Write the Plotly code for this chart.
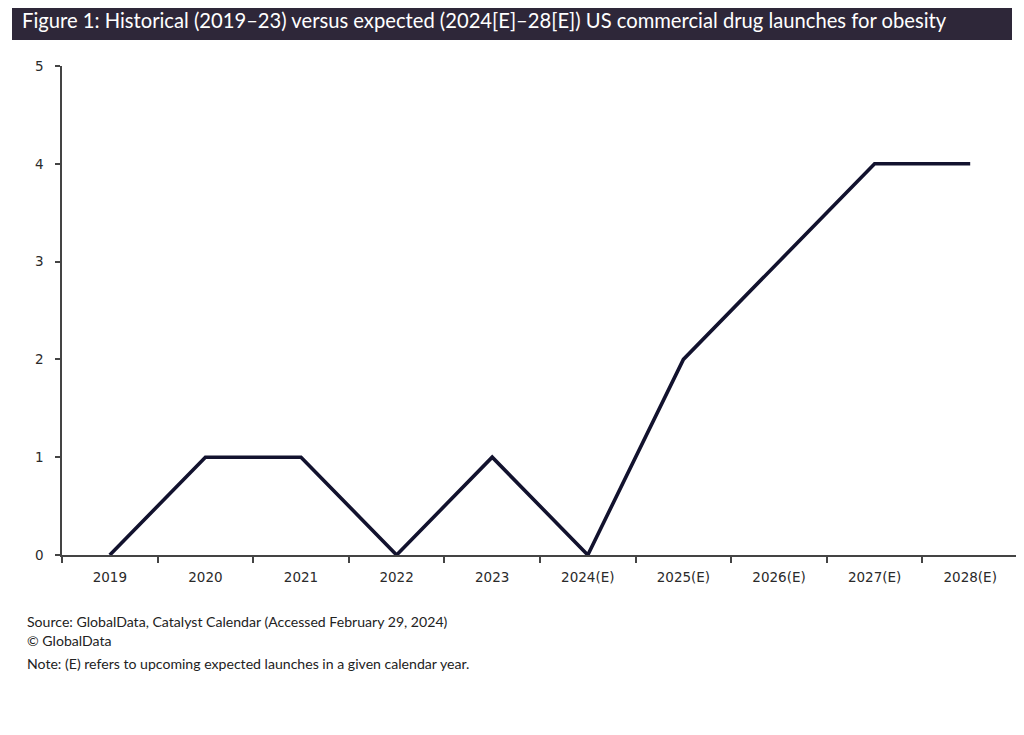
import plotly.graph_objects as go

years = ["2019", "2020", "2021", "2022", "2023", "2024(E)", "2025(E)", "2026(E)", "2027(E)", "2028(E)"]
launches = [0, 1, 1, 0, 1, 0, 2, 3, 4, 4]
y_ticks = [0, 1, 2, 3, 4, 5]

W, H = 1024, 735
OFF = 8  # page body margin compensation
L, R, T, B = 62 - OFF, 1018 - OFF, 66 - OFF, 555 - OFF
pw, ph = R - L, B - T

def px(x):
    return (x - OFF - L) / pw

def py(y):
    return (B - (y - OFF)) / ph

fig = go.Figure()
fig.add_trace(go.Scatter(
    x=years, y=launches, mode="lines",
    line=dict(color="#12122e", width=3.6),
    hoverinfo="skip", showlegend=False,
))

tick_font = dict(family="DejaVu Sans", size=13.5, color="#2a2a2a")

fig.update_layout(
    width=W, height=H,
    margin=dict(l=L, r=W - R, t=T, b=H - B, pad=0),
    paper_bgcolor="white", plot_bgcolor="white",
    xaxis=dict(
        type="category", range=[-0.5, 9.5], tickson="boundaries",
        ticks="outside", ticklen=6, tickcolor="#444", tickwidth=1.5,
        showline=True, linecolor="#444", linewidth=1.5,
        showgrid=False, zeroline=False,
        tickfont=tick_font, ticklabelstandoff=9,
    ),
    yaxis=dict(
        range=[0, 5], tickvals=y_ticks, ticks="outside", ticklen=5,
        tickcolor="#444", tickwidth=1.5,
        showline=True, linecolor="#444", linewidth=1.5,
        showgrid=False, zeroline=False,
        tickfont=tick_font, ticklabelstandoff=9,
    ),
    shapes=[dict(
        type="rect", xref="paper", yref="paper",
        x0=px(12), x1=px(1012), y0=py(40), y1=py(-20),
        fillcolor="#2e2739", line=dict(width=0), layer="above",
    )],
    annotations=[
        dict(text="Figure 1: Historical (2019–23) versus expected (2024[E]–28[E]) US commercial drug launches for obesity",
             xref="paper", yref="paper", x=px(20), y=py(20), xanchor="left", yanchor="middle",
             showarrow=False, font=dict(family="Lato", size=20.2, color="white")),
        dict(text="Source: GlobalData, Catalyst Calendar (Accessed February 29, 2024)",
             xref="paper", yref="paper", x=px(25), y=py(621), xanchor="left", yanchor="middle",
             showarrow=False, font=dict(family="Lato", size=14.1, color="#222")),
        dict(text="© GlobalData",
             xref="paper", yref="paper", x=px(25), y=py(640), xanchor="left", yanchor="middle",
             showarrow=False, font=dict(family="Lato", size=14.1, color="#222")),
        dict(text="Note: (E) refers to upcoming expected launches in a given calendar year.",
             xref="paper", yref="paper", x=px(25), y=py(663), xanchor="left", yanchor="middle",
             showarrow=False, font=dict(family="Lato", size=14.1, color="#222")),
    ],
)

fig.write_html("out.html")
